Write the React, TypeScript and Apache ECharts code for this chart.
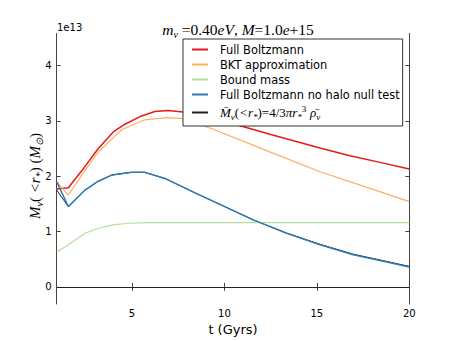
import { useEffect, useRef } from 'react';
import * as echarts from 'echarts';

const xTicks = [5, 10, 15, 20];
const yTicks = [0, 1, 2, 3, 4];

const fullT = [0.93, 1.56, 2.4, 3.18, 3.99, 4.62, 5.52, 6.24, 6.96, 7.77, 11.0, 12.46, 13.54, 15.17, 16.79, 18.42, 20];
const fullV = [1.77, 1.79, 2.15, 2.5, 2.8, 2.94, 3.09, 3.17, 3.19, 3.16, 2.9, 2.76, 2.66, 2.51, 2.37, 2.25, 2.13];

const bktT = [0.93, 1.56, 2.4, 3.18, 4.44, 5.7, 6.88, 7.77, 9.4, 12.46, 15.17, 17.87, 20];
const bktV = [1.9, 1.66, 2.08, 2.44, 2.84, 3.02, 3.06, 3.04, 2.85, 2.44, 2.08, 1.78, 1.54];

const boundT = [0.93, 1.56, 2.46, 3.18, 3.99, 4.8, 6.0, 20];
const boundV = [0.63, 0.76, 0.97, 1.06, 1.12, 1.15, 1.16, 1.16];

const nullT = [0.93, 1.56, 2.46, 3.18, 3.9, 4.98, 5.7, 6.78, 8.41, 9.76, 11.56, 13.37, 15.17, 16.97, 18.78, 20];
const nullV = [1.9, 1.45, 1.75, 1.91, 2.02, 2.07, 2.07, 1.96, 1.7, 1.49, 1.21, 0.97, 0.76, 0.58, 0.45, 0.36];

const meanT = [0.93, 1.56, 2.46, 3.18, 3.9, 4.98, 5.7, 6.78, 8.41, 9.76, 11.56, 13.37, 15.17, 16.97, 18.78, 20];
const meanV = [1.75, 1.45, 1.75, 1.91, 2.02, 2.07, 2.07, 1.96, 1.7, 1.49, 1.21, 0.97, 0.77, 0.59, 0.46, 0.37];

const seriesNames = [
  'Full Boltzmann',
  'BKT approximation',
  'Bound mass',
  'Full Boltzmann no halo null test',
  'Mean density mass',
];

const pairs = (t: number[], v: number[]) => t.map((x, i) => [x, v[i]]);

const serif = 'Liberation Serif';
const sans = 'DejaVu Sans';

const mathRich = (size: number, sub: number) => ({
  i: { fontFamily: serif, fontStyle: 'italic', fontWeight: 'normal', fontSize: size, color: '#000', lineHeight: size + 4 },
  r: { fontFamily: serif, fontWeight: 'normal', fontSize: size, color: '#000', lineHeight: size + 4 },
  s: { fontFamily: serif, fontStyle: 'italic', fontWeight: 'normal', fontSize: sub, color: '#000', verticalAlign: 'bottom', lineHeight: sub + 2 },
  p: { fontFamily: serif, fontWeight: 'normal', fontSize: sub, color: '#000', verticalAlign: 'top', lineHeight: sub + 2 },
});

export default function App() {
  const ref = useRef<HTMLDivElement>(null);
  useEffect(() => {
    if (!ref.current) return;
    const chart = echarts.init(ref.current, undefined, { renderer: 'svg' });
    const axisCommon = {
      type: 'value' as const,
      axisLine: { show: true, lineStyle: { color: '#444', width: 1 } },
      splitLine: { show: false },
    };
    const lineSeries = (name: string, data: number[][], color: string, width: number, z: number) => ({
      type: 'line',
      name,
      data,
      showSymbol: false,
      symbol: 'none',
      z,
      lineStyle: { color, width },
      itemStyle: { color },
    });
    chart.setOption({
      animation: false,
      textStyle: { fontFamily: sans },
      title: {
        text: '{i|m}{s|ν}{r| =0.40}{i|eV}{r|, }{i|M}{r|=1.0}{i|e}{r|+15}',
        left: 233,
        top: 15,
        textAlign: 'center',
        textStyle: { fontWeight: 'normal', rich: mathRich(15.5, 10) },
      },
      grid: { left: 56.7, right: 45.7, top: 33.5, bottom: 34.3 },
      legend: {
        data: seriesNames,
        orient: 'vertical',
        left: 183,
        top: 39,
        padding: [5, 3, 5, 9],
        itemGap: 4,
        itemWidth: 16,
        itemHeight: 2,
        icon: 'rect',
        backgroundColor: '#fff',
        borderColor: '#333',
        borderWidth: 1,
        borderRadius: 0,
        formatter: (name: string) =>
          name === 'Mean density mass'
            ? '{i|M\u0304}{s|ν}{r|(}{i|<r}{s|*}{r|)=4/3}{i|πr}{s|*}{p|3} {i|ρ\u0304}{s|ν}'
            : name,
        textStyle: {
          fontSize: 11.4,
          color: '#000',
          fontFamily: sans,
          padding: [0, 0, 0, 7],
          rich: mathRich(13, 9),
        },
      },
      xAxis: [
        {
          ...axisCommon,
          position: 'bottom',
          min: 0.93,
          max: 20,
          axisTick: { show: true, inside: true, length: 4, customValues: xTicks, lineStyle: { color: '#444' } },
          axisLabel: { show: true, customValues: xTicks, fontSize: 10, color: '#000', margin: 4, fontFamily: sans },
          name: 't (Gyrs)',
          nameLocation: 'middle',
          nameGap: 19,
          nameTextStyle: { fontSize: 13, color: '#000', fontFamily: sans },
        },
        {
          ...axisCommon,
          position: 'top',
          min: 0.93,
          max: 20,
          axisTick: { show: true, inside: true, length: 4, customValues: xTicks, lineStyle: { color: '#444' } },
          axisLabel: { show: false },
        },
      ],
      yAxis: [
        {
          ...axisCommon,
          position: 'left',
          min: -0.31,
          max: 4.58,
          axisTick: { show: true, inside: true, length: 4, customValues: yTicks, lineStyle: { color: '#444' } },
          axisLabel: { show: true, customValues: yTicks, fontSize: 10, color: '#000', margin: 5, fontFamily: sans },
        },
        {
          ...axisCommon,
          position: 'right',
          min: -0.31,
          max: 4.58,
          axisTick: { show: true, inside: true, length: 4, customValues: yTicks, lineStyle: { color: '#444' } },
          axisLabel: { show: false },
        },
      ],
      graphic: [
        {
          type: 'text',
          left: 57,
          top: 22,
          style: { text: '1e13', fontSize: 10, fill: '#000', fontFamily: sans },
        },
        {
          type: 'text',
          x: 35,
          y: 176,
          rotation: Math.PI / 2,
          style: {
            text: '{i|M}{s|ν}{r|( }{i|<r}{s|*}{r|) (}{i|M}{s|⊙}{r|)}',
            align: 'center',
            verticalAlign: 'middle',
            rich: mathRich(15, 10),
          },
        },
      ],
      series: [
        {
          ...lineSeries(seriesNames[4], pairs(meanT, meanV), '#222', 1, 2),
          markLine: {
            silent: true,
            symbol: 'none',
            label: { show: false },
            lineStyle: { color: '#222', width: 1, type: 'solid' },
            data: [{ yAxis: 0 }],
          },
        },
        lineSeries(seriesNames[0], pairs(fullT, fullV), '#e31a1c', 1.5, 3),
        lineSeries(seriesNames[1], pairs(bktT, bktV), '#fdae61', 1.2, 3),
        lineSeries(seriesNames[2], pairs(boundT, boundV), '#b2df9a', 1.2, 3),
        lineSeries(seriesNames[3], pairs(nullT, nullV), '#2c7bb6', 1.5, 4),
      ],
    });
    return () => chart.dispose();
  }, []);
  return <div ref={ref} style={{ position: 'absolute', left: 0, top: 0, width: 455, height: 341 }} />;
}
